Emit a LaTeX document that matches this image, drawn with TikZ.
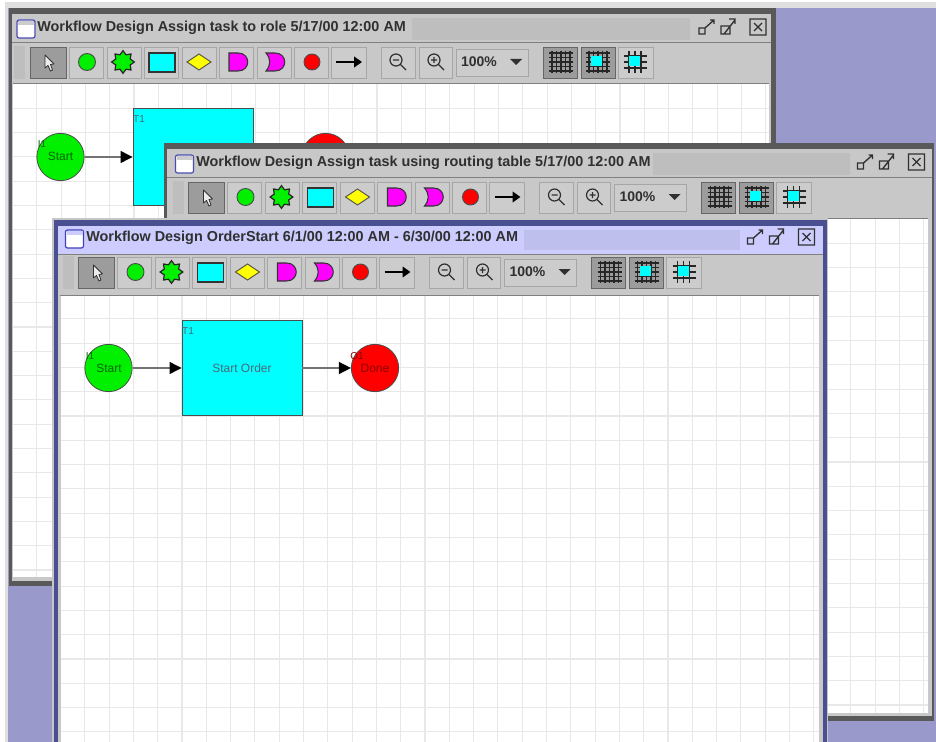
\documentclass[tikz,border=0pt]{standalone}
\usepackage{fontspec}
\setmainfont{Liberation Sans}
\usetikzlibrary{shapes.geometric,arrows.meta}
\definecolor{desk}{HTML}{9999CC}
\definecolor{wingray}{HTML}{C8C8C8}
\definecolor{btnlight}{HTML}{CCCCCC}
\definecolor{btnedge}{HTML}{A6A6A6}
\definecolor{btnsel}{HTML}{9C9C9C}
\definecolor{gridc}{HTML}{E8E8E8}
\definecolor{cyanc}{HTML}{00FFFF}
\definecolor{greenc}{HTML}{00F000}
\definecolor{redc}{HTML}{FF0000}
\definecolor{magc}{HTML}{FF00FF}
\definecolor{yelc}{HTML}{FFFF00}
\definecolor{ink}{HTML}{303030}
\definecolor{bluedark}{HTML}{4A4F92}
\definecolor{titleblue}{HTML}{CCCCFF}
\definecolor{hatchblue}{HTML}{BFBFEE}
\definecolor{hatchgray}{HTML}{BEBEBE}
\tikzset{
  x=0.75pt,y=-0.75pt,
  btn/.style={fill=btnlight,draw=btnedge,line width=0.7pt},
  btnon/.style={fill=btnsel,draw=gray!80!black,line width=0.6pt},
  titletext/.style={anchor=west,inner sep=0pt,font=\fontsize{10.8}{12}\selectfont\bfseries,text=ink},
  smalltext/.style={inner sep=0pt,font=\fontsize{9}{10}\selectfont},
  idtext/.style={inner sep=0pt,font=\fontsize{7.5}{8}\selectfont},
  combotext/.style={inner sep=0pt,font=\fontsize{10.5}{11}\selectfont\bfseries,text=ink},
  gridline/.style={draw=gridc,line width=0.8pt},
  iconline/.style={draw=ink,line width=0.7pt},
  place/.style={circle,minimum size=35.5pt,inner sep=0pt,draw=black!70,line width=0.6pt},
  task/.style={rectangle,inner sep=0pt,draw=black!70,line width=0.7pt,fill=cyanc},
  flow/.style={draw=black!55,line width=1pt,-{Triangle[length=9pt,width=9pt,color=black]}},
}
% toolbar and title-bar contents, drawn in the coordinates of the back window
\newcommand{\wincontent}[5]{%
\begin{scope}[shift={(#1,#2)}]
  % title icon
  \draw[draw=#4,line width=0.9pt,fill=white,rounded corners=1.5pt] (17,20) rectangle (35,38);
  \fill[#5] (18,21) rectangle (34,25);
  % title buttons
  \draw[iconline,line width=1pt] (699,28) rectangle (705,34) (705,28) -- (714,20) (710,20) -- (714,20) -- (714,24);
  \draw[iconline,line width=1pt] (721,26) rectangle (730,34) (724,34) -- (735,20) (729,19) -- (735,19) -- (735,24);
  \draw[iconline,line width=1pt] (750,19) rectangle (766,35) (754,23) -- (762,31) (762,23) -- (754,31);
  % toolbar grip
  \fill[hatchgray] (14,46) rectangle (25,79);
  % buttons
  \draw[btnon] (30,47) rectangle (66,78);
  \foreach \a/\b in {69/103,107/141,144/178,182/216,219/253,257/291,294/328,331/366,381/415,419/452}
    \draw[btn] (\a,47) rectangle (\b,78);
  \draw[btn] (456,49) rectangle (528,76);
  \draw[btnon] (543,47) rectangle (577,78);
  \draw[btnon] (581,47) rectangle (615,78);
  \draw[btn] (618,47) rectangle (653,78);
  % cursor
  \draw[draw=ink,fill=white!85!gray,line width=0.6pt,line join=round] (45,55) -- (45,68) -- (48,65.5) -- (50.5,71) -- (52.5,70) -- (50.5,64.5) -- (54,64) -- cycle;
  % palette
  \draw[fill=greenc,draw=black!70,line width=0.7pt] (87,62) circle[radius=8.5];
  \node[star,star points=8,star point ratio=1.45,minimum size=17pt,inner sep=0pt,fill=greenc,draw=black!85,line width=0.9pt] (#3-star) at (123,62) {};
  \draw[fill=cyanc,draw=black!80,line width=1pt] (149,53) rectangle (175,72);
  \draw[fill=yelc,draw=black!70,line width=0.7pt] (187,62) -- (199,54) -- (211,62) -- (199,70) -- cycle;
  \draw[fill=magc,draw=black!80,line width=0.8pt] (229,53) -- (238,53) .. controls (251,53) and (251,71) .. (238,71) -- (229,71) -- cycle;
  \draw[fill=magc,draw=black!80,line width=0.8pt] (266,53) -- (275,53) .. controls (288,53) and (288,71) .. (275,71) -- (266,71) .. controls (271,65) and (271,59) .. (266,53) -- cycle;
  \draw[fill=redc,draw=black!70,line width=0.7pt] (312,62) circle[radius=8];
  \draw[draw=black,line width=1.9pt,-{Triangle[length=6pt,width=8pt]}] (336,62) -- (362,62);
  % zoom icons
  \draw[iconline,line width=0.9pt] (396,60) circle[radius=6] (400.5,64.5) -- (406,70) (393,60) -- (399,60);
  \draw[iconline,line width=0.9pt] (434,60) circle[radius=6] (438.5,64.5) -- (444,70) (431,60) -- (437,60) (434,57) -- (434,63);
  % combo
  \node[combotext] (#3-combo) at (479,62) {100\%};
  \fill[ink] (510,59) -- (522,59) -- (516,65) -- cycle;
  % grid toggle icons
  \foreach \c in {561,598}{
    \foreach \k in {-9,-4.5,0,4.5,9} {
      \draw[draw=black!85,line width=1pt] (\c+\k,51) -- (\c+\k,73);
      \draw[draw=black!85,line width=1pt] (\c-12,62+\k) -- (\c+12,62+\k);
    }
  }
  \fill[cyanc] (591,56) rectangle (602,66);
  \foreach \k in {-6,0,6} \draw[draw=black!85,line width=1pt] (624,56+\k+6) -- (647,56+\k+6);
  \foreach \k in {-6,0,6} \draw[draw=black!85,line width=1pt] (632+\k+3,51) -- (632+\k+3,73);
  \fill[cyanc] (629,56) rectangle (640,66);
\end{scope}}
\begin{document}
\begin{tikzpicture}
\useasboundingbox (0,0) rectangle (936,742);
\fill[white] (0,0) rectangle (936,742);
\fill[gray!25] (5,2) rectangle (936,8);
\fill[gray!25] (5,2) rectangle (8,742);
\fill[desk] (8,8) rectangle (936,742);

% ---------- back window
\fill[black!65] (9,8) rectangle (776,586);
\fill[wingray] (12,14) rectangle (771,581);
\fill[hatchgray] (412,18) rectangle (690,40);
\draw[draw=gray,line width=0.7pt] (12,42) -- (771,42);
\fill[white] (13,84) rectangle (769,577);
\draw[draw=gray,line width=0.7pt] (13,83.5) -- (769,83.5);
\foreach \k in {1,...,31} \draw[gridline] (12.5+24.3*\k,84) -- (12.5+24.3*\k,577);
\foreach \k in {1,...,20} \draw[gridline] (13,84+24.3*\k) -- (769,84+24.3*\k);
\node[titletext] (t1) at (37,28) {Workflow Design Assign task to role 5/17/00 12:00 AM};
\wincontent{0}{0}{a}{gray!60!blue}{gray!40}
\node[place,fill=greenc] (a1) at (60.5,157) {};
\node[smalltext,text=green!40!black] (a1t) at (60.5,156) {Start};
\node[idtext,text=green!40!black] (a1i) at (42,144) {I1};
\node[task,minimum width=90pt,minimum height=73pt] (a2) at (193,157) {};
\node[idtext,text=cyan!40!black] (a2i) at (139,119) {T1};
\node[place,fill=redc] (a3) at (325.5,157) {};
\draw[flow] (a1) -- (a2);

% ---------- middle window
\fill[black!65] (164,143) rectangle (934,721);
\fill[wingray] (167,149) rectangle (932,716);
\fill[hatchgray] (653,153) rectangle (850,175);
\draw[draw=gray,line width=0.7pt] (167,177) -- (932,177);
\fill[white] (169,219) rectangle (928,713);
\draw[draw=gray,line width=0.7pt] (169,218.5) -- (928,218.5);
\foreach \k in {1,...,31} \draw[gridline] (170.5+24.3*\k,219) -- (170.5+24.3*\k,713);
\foreach \k in {1,...,20} \draw[gridline] (169,219+24.3*\k) -- (928,219+24.3*\k);
\node[titletext] (t2) at (196,163) {Workflow Design Assign task using routing table 5/17/00 12:00 AM};
\wincontent{158.5}{135}{b}{gray!60!blue}{gray!40}

% ---------- front window
\fill[gray!45] (52,218) rectangle (828,742);
\fill[bluedark] (54,220) rectangle (827,742);
\fill[wingray] (58,226) rectangle (823,742);
\fill[titleblue] (58,226) rectangle (823,254);
\fill[hatchblue] (524,230) rectangle (740,250);
\draw[draw=gray,line width=0.7pt] (58,254.5) -- (823,254.5);
\fill[white] (60.5,296) rectangle (819,742);
\draw[draw=gray,line width=0.7pt] (60,295.5) -- (819,295.5);
\foreach \k in {1,...,31} \draw[gridline] (60.5+24.3*\k,296) -- (60.5+24.3*\k,742);
\foreach \k in {1,...,18} \draw[gridline] (60.5,294.5+24.3*\k) -- (819,294.5+24.3*\k);
\node[titletext] (t3) at (86,238) {Workflow Design OrderStart 6/1/00 12:00 AM - 6/30/00 12:00 AM};
\wincontent{48.5}{210}{c}{blue!50!gray}{titleblue}
\node[place,fill=greenc] (c1) at (108.5,368) {};
\node[smalltext,text=green!40!black] (c1t) at (109,368) {Start};
\node[idtext,text=green!40!black] (c1i) at (90,356) {I1};
\node[task,minimum width=90pt,minimum height=71pt] (c2) at (242,368) {};
\node[smalltext,text=cyan!40!black] (c2t) at (242,368) {Start Order};
\node[idtext,text=cyan!40!black] (c2i) at (188,331) {T1};
\node[place,fill=redc] (c3) at (375,368) {};
\node[smalltext,text=red!55!black] (c3t) at (375,368) {Done};
\node[idtext,text=red!55!black] (c3i) at (357,356) {O1};
\draw[flow] (c1) -- (c2);
\draw[flow] (c2) -- (c3);
\end{tikzpicture}
\end{document}
